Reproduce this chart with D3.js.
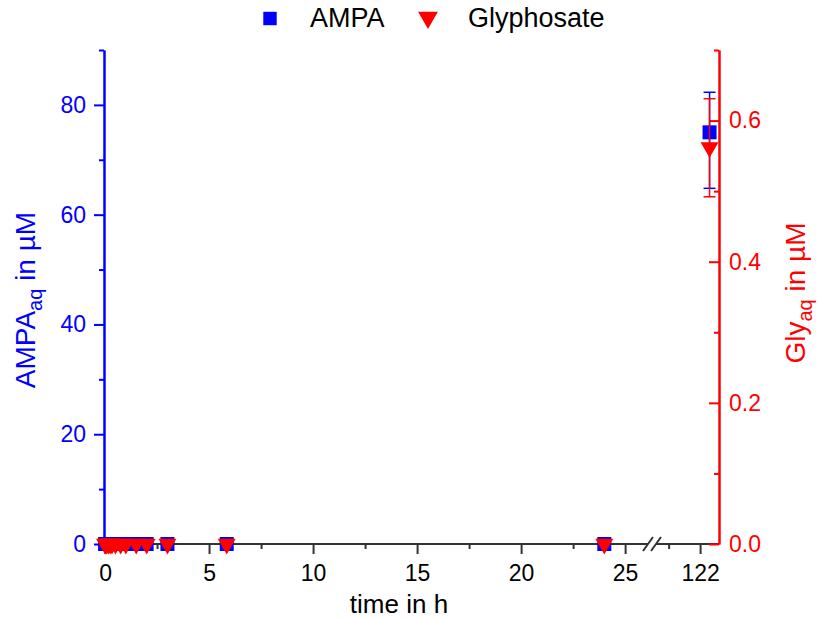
<!DOCTYPE html>
<html>
<head>
<meta charset="utf-8">
<script src="https://cdn.jsdelivr.net/npm/d3@7"></script>
<style>
  html, body { margin: 0; padding: 0; background: #fff; }
  svg { display: block; font-family: "Liberation Sans", Arial, sans-serif; }
</style>
</head>
<body>
<div id="chart"></div>
<script>
// sampling times in h (last point sits after the axis break)
const times = [0, 0.083, 0.167, 0.25, 0.333, 0.5, 0.75, 1, 1.5, 2, 3, 5.85, 24, 122.15];
// AMPA in µM (left axis)
const ampa      = [0, 0, 0, 0, 0, 0, 0, 0, 0, 0, 0, 0, 0, 75.0];
const ampaLow   = [0, 0, 0, 0, 0, 0, 0, 0, 0, 0, 0, 0, 0, 64.8];
const ampaHigh  = [0, 0, 0, 0, 0, 0, 0, 0, 0, 0, 0, 0, 0, 82.3];
// Glyphosate in µM (right axis)
const gly       = [0, 0, 0, 0, 0, 0, 0, 0, 0, 0, 0, 0, 0, 0.562];
const glyLow    = [0, 0, 0, 0, 0, 0, 0, 0, 0, 0, 0, 0, 0, 0.492];
const glyHigh   = [0, 0, 0, 0, 0, 0, 0, 0, 0, 0, 0, 0, 0, 0.631];
// tick labels
const xTicksA = [0, 5, 10, 15, 20, 25];
const xTicksB = [122];
const yLeftTicks = [0, 20, 40, 60, 80];
const yRightTicks = [0, 0.2, 0.4, 0.6];

const width = 820, height = 619;
const blue = "#0000ff", red = "#ff0000", axisGray = "#333";
const tickFont = "23px";

const svg = d3.select("#chart").append("svg")
    .attr("width", width).attr("height", height);

// broken x axis: two linear segments
const xA = d3.scaleLinear().domain([-0.05, 26.1]).range([104, 648]);
const xB = d3.scaleLinear().domain([121.3, 122.3]).range([656, 719]);
const x = t => t < 100 ? xA(t) : xB(t);

const yL = d3.scaleLinear().domain([0, 90]).range([544, 50]);
const yR = d3.scaleLinear().domain([0, 0.7]).range([544, 50]);

const rows = times.map((t, i) => ({
    t, ampa: ampa[i], aLo: ampaLow[i], aHi: ampaHigh[i],
    gly: gly[i], gLo: glyLow[i], gHi: glyHigh[i]
}));

// --- bottom axis ---
const bottom = svg.append("g").attr("transform", "translate(0,544)");
bottom.append("line").attr("x1", 104).attr("x2", 648).attr("stroke", axisGray).attr("stroke-width", 2);
bottom.append("line").attr("x1", 656).attr("x2", 719).attr("stroke", axisGray).attr("stroke-width", 2);
[648, 656].forEach(c => {
    bottom.append("line")
        .attr("x1", c - 5).attr("y1", 7).attr("x2", c + 5).attr("y2", -7)
        .attr("stroke", axisGray).attr("stroke-width", 2);
});

function styleX(g) {
    g.select(".domain").remove();
    g.selectAll("line").attr("stroke", axisGray).attr("stroke-width", 2);
    g.selectAll("text").attr("fill", "#000").style("font-size", tickFont)
        .style("font-family", "Liberation Sans, Arial, sans-serif");
}
bottom.append("g").call(d3.axisBottom(xA).tickValues(xTicksA).tickSize(10).tickPadding(11).tickFormat(d3.format("d"))).call(styleX);
bottom.append("g").call(d3.axisBottom(xA).tickValues([2.5, 7.5, 12.5, 17.5, 22.5]).tickSize(5).tickFormat("")).call(styleX);
bottom.append("g").call(d3.axisBottom(xB).tickValues(xTicksB).tickSize(10).tickPadding(11).tickFormat(d3.format("d"))).call(styleX);
bottom.append("g").call(d3.axisBottom(xB).tickValues([121.5]).tickSize(5).tickFormat("")).call(styleX);

svg.append("text")
    .attr("x", 399).attr("y", 613)
    .attr("text-anchor", "middle")
    .style("font-size", "26px")
    .text("time in h");

// --- left axis (AMPA) ---
function styleY(color) {
    return g => {
        g.select(".domain").attr("stroke", color).attr("stroke-width", 2);
        g.selectAll("line").attr("stroke", color).attr("stroke-width", 2);
        g.selectAll("text").attr("fill", color).style("font-size", tickFont)
            .style("font-family", "Liberation Sans, Arial, sans-serif");
    };
}
const left = svg.append("g").attr("transform", "translate(104,0)");
left.append("g").call(d3.axisLeft(yL).tickValues([10, 30, 50, 70, 90]).tickSize(5).tickSizeOuter(0).tickFormat("")).call(styleY(blue));
left.append("g").call(d3.axisLeft(yL).tickValues(yLeftTicks).tickSize(10).tickSizeOuter(0).tickPadding(8).tickFormat(d3.format("d"))).call(styleY(blue));

const lt = svg.append("text")
    .attr("transform", "translate(35,300) rotate(-90)")
    .attr("text-anchor", "middle")
    .attr("fill", blue)
    .style("font-size", "28px");
lt.append("tspan").text("AMPA");
lt.append("tspan").attr("dy", 7).style("font-size", "20px").text("aq");
lt.append("tspan").attr("dy", -7).text(" in \u00b5M");

// --- right axis (Glyphosate), ticks point inward ---
const right = svg.append("g").attr("transform", "translate(719,0)");
right.append("g").call(d3.axisRight(yR).tickValues([0.1, 0.3, 0.5, 0.7]).tickSize(-5).tickSizeOuter(0).tickFormat("")).call(styleY(red));
right.append("g").call(d3.axisRight(yR).tickValues(yRightTicks).tickSize(-10).tickSizeOuter(0).tickPadding(10).tickFormat(d3.format(".1f"))).call(styleY(red));

const rt = svg.append("text")
    .attr("transform", "translate(805,293) rotate(-90)")
    .attr("text-anchor", "middle")
    .attr("fill", red)
    .style("font-size", "28px");
rt.append("tspan").text("Gly");
rt.append("tspan").attr("dy", 7).style("font-size", "20px").text("aq");
rt.append("tspan").attr("dy", -7).text(" in \u00b5M");

// --- data ---
const sq = d3.symbol().type(d3.symbolSquare).size(196);
const tri = d3.symbol().type(d3.symbolTriangle).size(140);
const cap = 6;

const errA = svg.append("g").attr("stroke", blue).attr("stroke-width", 1.5);
rows.filter(d => d.aHi > d.aLo).forEach(d => {
    const cx = x(d.t);
    errA.append("line").attr("x1", cx).attr("x2", cx).attr("y1", yL(d.aLo)).attr("y2", yL(d.aHi));
    errA.append("line").attr("x1", cx - cap).attr("x2", cx + cap).attr("y1", yL(d.aLo)).attr("y2", yL(d.aLo));
    errA.append("line").attr("x1", cx - cap).attr("x2", cx + cap).attr("y1", yL(d.aHi)).attr("y2", yL(d.aHi));
});
svg.append("g").selectAll("path").data(rows).join("path")
    .attr("d", sq)
    .attr("transform", d => `translate(${x(d.t)},${yL(d.ampa)})`)
    .attr("fill", blue);

const errG = svg.append("g").attr("stroke", red).attr("stroke-width", 1.5);
rows.filter(d => d.gHi > d.gLo).forEach(d => {
    const cx = x(d.t);
    errG.append("line").attr("x1", cx).attr("x2", cx).attr("y1", yR(d.gLo)).attr("y2", yR(d.gHi));
    errG.append("line").attr("x1", cx - cap).attr("x2", cx + cap).attr("y1", yR(d.gLo)).attr("y2", yR(d.gLo));
    errG.append("line").attr("x1", cx - cap).attr("x2", cx + cap).attr("y1", yR(d.gHi)).attr("y2", yR(d.gHi));
});
svg.append("g").selectAll("path").data(rows).join("path")
    .attr("d", tri)
    .attr("transform", d => `translate(${x(d.t)},${yR(d.gly)}) rotate(180)`)
    .attr("fill", red);

// --- legend ---
const legend = svg.append("g");
legend.append("path").attr("d", d3.symbol().type(d3.symbolSquare).size(180)())
    .attr("transform", "translate(270,18.5)").attr("fill", blue);
legend.append("text").attr("x", 310).attr("y", 27).style("font-size", "27px").text("AMPA");
legend.append("path").attr("d", d3.symbol().type(d3.symbolTriangle).size(170)())
    .attr("transform", "translate(428,17.5) rotate(180)").attr("fill", red);
legend.append("text").attr("x", 468).attr("y", 27).style("font-size", "27px").text("Glyphosate");
</script>
</body>
</html>
